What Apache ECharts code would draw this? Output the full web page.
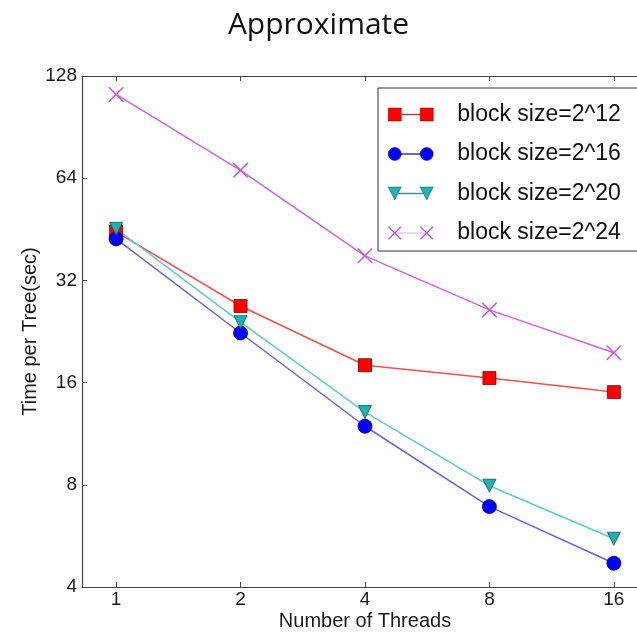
<!DOCTYPE html>
<html>
<head>
<meta charset="utf-8">
<script src="https://cdn.jsdelivr.net/npm/echarts@6/dist/echarts.min.js"></script>
<style>
  html, body { margin: 0; padding: 0; background: #ffffff; }
  #chart { width: 637px; height: 635px; }
</style>
</head>
<body>
<div id="chart"></div>
<script>
// Thread counts on the x axis (log base 2)
const threads = [1, 2, 4, 8, 16];

// Time per tree (seconds) for each block size
const blockSize12 = [44.5, 26.9, 18.0, 16.5, 15.0];
const blockSize16 = [42.4, 22.4, 11.9, 6.9, 4.7];
const blockSize20 = [45.4, 24.1, 13.1, 7.95, 5.55];
const blockSize24 = [113, 67.5, 37.8, 26.2, 19.6];

const seriesNames = ['block size=2^12', 'block size=2^16', 'block size=2^20', 'block size=2^24'];

// y tick values (log base 2)
const yTicks = [4, 8, 16, 32, 64, 128];

// Marker shapes
const xMark = 'path://M0,0 L1.1,0 L8,6.9 L14.9,0 L16,0 L16,1.1 L9.1,8 L16,14.9 L16,16 L14.9,16 L8,9.1 L1.1,16 L0,16 L0,14.9 L6.9,8 L0,1.1 Z';

// Legend icons: a marker at each end joined by a thin line
const iconSquare = 'path://M0,0 H13 V13 H0 Z M13,6.2 H32 V6.8 H13 Z M32,0 H45 V13 H32 Z';
const iconCircle = 'path://M0,6.5 A6.5,6.5 0 1 0 13,6.5 A6.5,6.5 0 1 0 0,6.5 Z M13,6.2 H32 V6.8 H13 Z M32,6.5 A6.5,6.5 0 1 0 45,6.5 A6.5,6.5 0 1 0 32,6.5 Z';
const iconTriangle = 'path://M0,0 H13 L6.5,13 Z M10,6.2 H35 V6.8 H10 Z M32,0 H45 L38.5,13 Z';
const iconX = 'path://M0,0 L1,0 L6.5,5.5 L12,0 L13,0 L13,1 L7.5,6.2 H37.5 L32,1 L32,0 L33,0 L38.5,5.5 L44,0 L45,0 L45,1 L39.5,6.5 L45,12 L45,13 L44,13 L38.5,7.5 L33,13 L32,13 L32,12 L37.5,6.8 H7.5 L13,12 L13,13 L12,13 L6.5,7.5 L1,13 L0,13 L0,12 L5.5,6.5 L0,1 Z';

function pairs(values) {
  return threads.map((t, i) => [t, values[i]]);
}

function isPow2(v) {
  const l = Math.log2(v);
  return Math.abs(l - Math.round(l)) < 1e-6;
}

const axisColor = '#444444';
const labelFont = { fontFamily: 'Liberation Sans', fontSize: 19, color: '#1a1a1a' };

const chart = echarts.init(document.getElementById('chart'), null, { renderer: 'canvas' });

chart.setOption({
  animation: false,
  backgroundColor: '#ffffff',
  title: {
    text: 'Approximate',
    left: 'center',
    top: 5,
    textStyle: { fontFamily: 'Open Sans', fontSize: 30, fontWeight: 'normal', color: '#111111' }
  },
  legend: {
    orient: 'vertical',
    left: 378,
    top: 88,
    padding: [14.5, 30, 6, 10],
    itemWidth: 45,
    itemHeight: 13,
    itemGap: 15.5,
    borderColor: '#333333',
    borderWidth: 1,
    backgroundColor: '#ffffff',
    itemStyle: { borderWidth: 0.5 },
    textStyle: { fontFamily: 'Liberation Sans', fontSize: 23, color: '#111111', lineHeight: 24, padding: [0, 0, 0, 19] },
    data: [
      { name: seriesNames[0], icon: iconSquare },
      { name: seriesNames[1], icon: iconCircle },
      { name: seriesNames[2], icon: iconTriangle },
      { name: seriesNames[3], icon: iconX }
    ]
  },
  grid: { left: 82, top: 76, width: 566, height: 511, outerBoundsMode: 'none' },
  xAxis: [
    {
      type: 'log',
      logBase: 2,
      min: 0.827,
      max: 19.35,
      position: 'bottom',
      name: 'Number of Threads',
      nameLocation: 'middle',
      nameGap: 24,
      nameMoveOverlap: false,
      nameTextStyle: { fontFamily: 'Liberation Sans', fontSize: 20, color: '#1a1a1a' },
      axisLine: { show: true, lineStyle: { color: axisColor, width: 1.2 } },
      axisTick: { show: true, inside: true, length: 5, lineStyle: { color: axisColor } },
      axisLabel: Object.assign({ margin: 3, formatter: v => isPow2(v) ? String(Math.round(v)) : '' }, labelFont),
      splitLine: { show: false },
      minorTick: { show: false }
    },
    {
      type: 'log',
      logBase: 2,
      min: 0.827,
      max: 19.35,
      position: 'top',
      axisLine: { show: true, lineStyle: { color: axisColor, width: 1.2 } },
      axisTick: { show: true, inside: true, length: 5, lineStyle: { color: axisColor } },
      axisLabel: { show: false },
      splitLine: { show: false }
    }
  ],
  yAxis: {
    type: 'log',
    logBase: 2,
    min: yTicks[0],
    max: yTicks[yTicks.length - 1],
    splitNumber: yTicks.length - 1,
    name: 'Time per Tree(sec)',
    nameLocation: 'middle',
    nameGap: 42,
    nameMoveOverlap: false,
    nameTextStyle: { fontFamily: 'Liberation Sans', fontSize: 20, color: '#1a1a1a' },
    axisLine: { show: true, lineStyle: { color: axisColor, width: 1.2 } },
    axisTick: { show: true, inside: true, length: 5, lineStyle: { color: axisColor } },
    axisLabel: Object.assign({ margin: 5, formatter: v => String(Math.round(v)) }, labelFont),
    splitLine: { show: false }
  },
  series: [
    {
      name: seriesNames[0],
      type: 'line',
      data: pairs(blockSize12),
      symbol: 'rect',
      symbolSize: 13,
      lineStyle: { color: '#ee5050', width: 1.5 },
      itemStyle: { color: '#ff0000', borderColor: '#7a0000', borderWidth: 0.8 }
    },
    {
      name: seriesNames[1],
      type: 'line',
      data: pairs(blockSize16),
      symbol: 'circle',
      symbolSize: 14,
      lineStyle: { color: '#6464e8', width: 1.5 },
      itemStyle: { color: '#0000ff', borderColor: '#00007a', borderWidth: 0.8 }
    },
    {
      name: seriesNames[2],
      type: 'line',
      data: pairs(blockSize20),
      symbol: 'triangle',
      symbolRotate: 180,
      symbolSize: 13,
      lineStyle: { color: '#5ccccc', width: 1.5 },
      itemStyle: { color: '#1fb0b0', borderColor: '#0a5a5a', borderWidth: 0.8 }
    },
    {
      name: seriesNames[3],
      type: 'line',
      data: pairs(blockSize24),
      symbol: xMark,
      symbolSize: 15,
      lineStyle: { color: '#cc66dd', width: 1.5 },
      itemStyle: { color: '#c855dd' }
    }
  ]
});
</script>
</body>
</html>
